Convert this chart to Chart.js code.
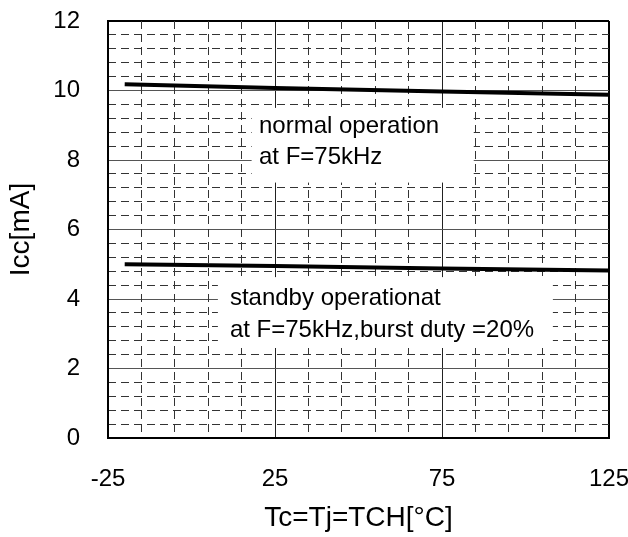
<!DOCTYPE html>
<html>
<head>
<meta charset="utf-8">
<script src="https://cdn.jsdelivr.net/npm/chart.js@4.4.1/dist/chart.umd.min.js"></script>
<style>
  html, body { margin: 0; padding: 0; background: #fff; }
  #wrap { width: 628px; height: 537px; }
</style>
</head>
<body>
<div id="wrap"><canvas id="chart" width="628" height="537"></canvas></div>
<script>
// data
const tempC = [-20, 25, 75, 125];
const normalIcc = [10.18, 10.07, 9.97, 9.88];
const standbyIcc = [5.0, 4.95, 4.88, 4.82];

// tick labels / grid positions
const xMajorTicks = [-25, 25, 75, 125];
const xMinorTicks = [-25, -15, -5, 5, 15, 25, 35, 45, 55, 65, 75, 85, 95, 105, 115, 125];
const yMajorTicks = [0, 2, 4, 6, 8, 10, 12];
const yMinorTicks = [0, 0.4, 0.8, 1.2, 1.6, 2, 2.4, 2.8, 3.2, 3.6, 4, 4.4, 4.8, 5.2, 5.6, 6,
  6.4, 6.8, 7.2, 7.6, 8, 8.4, 8.8, 9.2, 9.6, 10, 10.4, 10.8, 11.2, 11.6, 12];

const noteTexts = [
  ['normal operation', 'at F=75kHz'],
  ['standby operationat', 'at F=75kHz,burst duty =20%']
];

// white label boxes, placed in data units
const notePlacement = [
  { x0: 18, x1: 84.5, y0: 9.5, y1: 7.35, tx: 20.2, ty: [8.98, 8.08] },
  { x0: 7.9, x1: 108.2, y0: 4.63, y1: 2.59, tx: 11.5, ty: [4.03, 3.11] }
];

Chart.defaults.font.family = "'Liberation Sans', Arial, sans-serif";
Chart.defaults.color = '#000';

const toPts = (xs, ys) => xs.map((x, i) => ({ x: x, y: ys[i] }));
const setTicks = list => scale => { scale.ticks = list.map(v => ({ value: v })); };
const isMajor = (v, step, base) => Math.abs((v - base) / step - Math.round((v - base) / step)) < 1e-6;

const notesPlugin = {
  id: 'notes',
  beforeDatasetsDraw(chart) {
    const { ctx, scales } = chart;
    const x = scales.x, y = scales.y;
    ctx.save();
    ctx.font = "24px 'Liberation Sans', Arial, sans-serif";
    ctx.textBaseline = 'middle';
    ctx.textAlign = 'left';
    notePlacement.forEach((n, i) => {
      const l = x.getPixelForValue(n.x0), r = x.getPixelForValue(n.x1);
      const t = y.getPixelForValue(n.y0), b = y.getPixelForValue(n.y1);
      ctx.fillStyle = '#fff';
      ctx.fillRect(l, t, r - l, b - t);
      ctx.fillStyle = '#000';
      noteTexts[i].forEach((s, j) => {
        ctx.fillText(s, x.getPixelForValue(n.tx), y.getPixelForValue(n.ty[j]));
      });
    });
    ctx.restore();
  }
};

new Chart(document.getElementById('chart'), {
  type: 'line',
  data: {
    datasets: [
      { label: 'normal', data: toPts(tempC, normalIcc), borderColor: '#000', borderWidth: 4, pointRadius: 0, tension: 0 },
      { label: 'standby', data: toPts(tempC, standbyIcc), borderColor: '#000', borderWidth: 4, pointRadius: 0, tension: 0 }
    ]
  },
  options: {
    responsive: false,
    animation: false,
    devicePixelRatio: 1,
    layout: { padding: { top: 21, right: 19, left: 0, bottom: 0 } },
    plugins: { legend: { display: false }, tooltip: { enabled: false } },
    scales: {
      x: {
        type: 'linear', position: 'bottom', min: -25, max: 125,
        afterBuildTicks: setTicks(xMajorTicks),
        ticks: { font: { size: 24 }, padding: 27, maxRotation: 0, autoSkip: false },
        grid: {
          drawTicks: false,
          color: c => c.tick.value === 125 ? '#000' : '#222',
          lineWidth: c => c.tick.value === 125 ? 2 : 1
        },
        border: { color: '#000', width: 2 },
        title: { display: true, text: 'Tc=Tj=TCH[°C]', font: { size: 28 }, padding: { top: 0, bottom: 2 } },
        afterFit: s => { s.height = 99; s.paddingLeft = 0; s.paddingRight = 0; }
      },
      y: {
        type: 'linear', position: 'left', min: 0, max: 12,
        afterBuildTicks: setTicks(yMajorTicks),
        ticks: { font: { size: 24 }, padding: 28 },
        grid: {
          drawTicks: false,
          color: c => c.tick.value === 12 ? '#000' : '#555',
          lineWidth: c => c.tick.value === 12 ? 2 : 1
        },
        border: { color: '#000', width: 2 },
        title: { display: true, text: 'Icc[mA]', font: { size: 28 }, padding: { top: 4, bottom: 0 } },
        afterFit: s => { s.width = 108; s.paddingTop = 0; s.paddingBottom = 0; }
      },
      x2: {
        type: 'linear', position: 'top', min: -25, max: 125,
        afterBuildTicks: setTicks(xMinorTicks),
        ticks: { display: false },
        grid: {
          drawTicks: false,
          color: c => isMajor(c.tick.value, 50, -25) ? 'rgba(0,0,0,0)' : '#333'
        },
        border: { display: false, dash: [8, 5] },
        afterFit: s => { s.height = 0; s.paddingLeft = 0; s.paddingRight = 0; }
      },
      y2: {
        type: 'linear', position: 'right', min: 0, max: 12,
        afterBuildTicks: setTicks(yMinorTicks),
        ticks: { display: false },
        grid: {
          drawTicks: false,
          color: c => isMajor(c.tick.value, 2, 0) ? 'rgba(0,0,0,0)' : '#333'
        },
        border: { display: false, dash: [8, 5] },
        afterFit: s => { s.width = 0; s.paddingTop = 0; s.paddingBottom = 0; }
      }
    }
  },
  plugins: [notesPlugin]
});
</script>
</body>
</html>
